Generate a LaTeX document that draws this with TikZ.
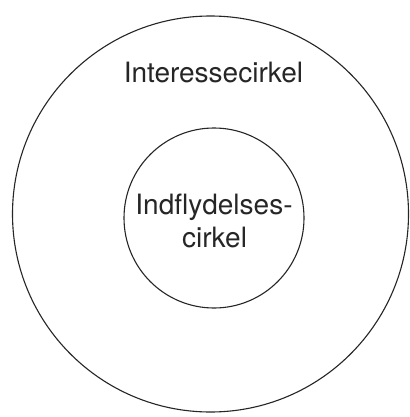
\documentclass[tikz,border=0pt]{standalone}
\usepackage{fontspec}
\setmainfont{TeX Gyre Heros}
\begin{document}
\begin{tikzpicture}[x=1pt,y=-1pt,
  ring/.style={circle,draw=black!85,line width=1.1pt,inner sep=0pt,outer sep=0pt},
  label/.style={inner sep=0pt,anchor=base,font=\fontsize{28}{34}\selectfont,text=black!85}]
\useasboundingbox[fill=white] (0,0) rectangle (409,417);
\node[ring,minimum size=396pt] (outer) at (210.5,214) {};
\node[ring,minimum size=180pt] (inner) at (214,218) {};
\node[label] (t1) at (213.5,83) {Interessecirkel};
\node[label] (t2) at (214,214) {Indflydelses-};
\node[label] (t3) at (214.5,247) {cirkel};
\end{tikzpicture}
\end{document}
